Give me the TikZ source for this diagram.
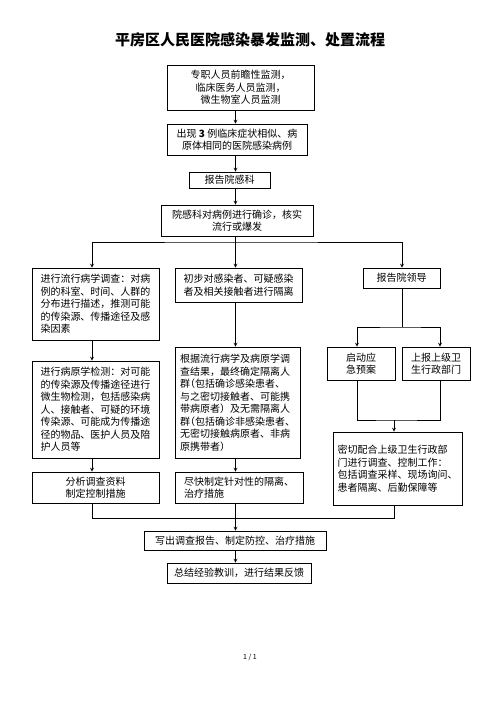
\documentclass[tikz,border=0pt]{standalone}
\usepackage{fontspec}
\setmainfont{Noto Sans CJK SC}
\newfontfamily\halffont[RawFeature=+halt]{Noto Sans CJK SC}
\newcommand\halfpar{{\halffont （}}
\begin{document}
\begin{tikzpicture}[x=1pt, y=-1pt, >=stealth, line width=0.75pt,
  every node/.style={font=\fontsize{10}{12.5}\selectfont, inner sep=2pt},
  box/.style={draw, align=left},
  cbox/.style={draw, align=center},
  sz/.style 2 args={minimum width=#1pt, minimum height=#2pt}]
  \useasboundingbox (0,0) rectangle (500,707);
  \node[font=\fontsize{15}{18}\selectfont\bfseries] (title) at (250,40) {平房区人民医院感染暴发监测、处置流程};
  \node[cbox, sz={147}{45}] (watch) at (240.5,87.5) {专职人员前瞻性监测，\\临床医务人员监测，\\微生物室人员监测};
  \node[cbox, sz={140}{31}] (cases) at (237,139.5) {出现 \textbf{3} 例临床症状相似、病\\原体相同的医院感染病例};
  \node[cbox, sz={81}{16}] (rptic) at (229.5,180) {报告院感科};
  \node[cbox, sz={152}{31}] (confirm) at (237,220.5) {院感科对病例进行确诊，核实\\流行或爆发};
  \node[box, sz={127}{72}] (epi) at (95.5,304) {进行流行病学调查：对病\\例的科室、时间、人群的\\分布进行描述，推测可能\\的传染源、传播途径及感\\染因素};
  \node[box, sz={127}{97}] (lab) at (95.5,409.5) {进行病原学检测：对可能\\的传染源及传播途径进行\\微生物检测，包括感染病\\人、接触者、可疑的环境\\传染源、可能成为传播途\\径的物品、医护人员及陪\\护人员等};
  \node[cbox, sz={127}{31}] (analy) at (95.5,487.5) {分析调查资料\\制定控制措施};
  \node[box, sz={127}{34}] (isol) at (238.5,285) {初步对感染者、可疑感染\\者及相关接触者进行隔离};
  \node[box, sz={125}{111}] (group) at (237.5,402.5) {根据流行病学及病原学调\\查结果，最终确定隔离人\\群\halfpar 包括确诊感染患者、\\与之密切接触者、可能携\\带病原者）及无需隔离人\\群\halfpar 包括确诊非感染患者、\\无密切接触病原者、非病\\原携带者）};
  \node[box, sz={128}{31}] (treat) at (239,487.5) {尽快制定针对性的隔离、\\治疗措施};
  \node[cbox, sz={77}{20}] (rptld) at (401.5,278) {报告院领导};
  \node[cbox, sz={68}{33}] (plan) at (361,363.5) {启动应\\急预案};
  \node[cbox, sz={68}{33}] (upper) at (436,363.5) {上报上级卫\\生行政部门};
  \node[box, sz={129}{73}] (coop) at (397.5,468.5) {密切配合上级卫生行政部\\门进行调查、控制工作：\\包括调查采样、现场询问、\\患者隔离、后勤保障等};
  \node[cbox, sz={182}{19}] (write) at (235,540.5) {写出调查报告、制定防控、治疗措施};
  \node[cbox, sz={144}{20}] (sum) at (239,573) {总结经验教训，进行结果反馈};
  \node[font=\fontsize{7}{8}\selectfont] (page) at (250,657) {1 / 1};
  \coordinate (spine) at (235.5,0); \coordinate (colL) at (92,0); \coordinate (colR) at (402,0);
  \coordinate (subA) at (357,0); \coordinate (subB) at (440,0); \coordinate (colC) at (394,0);
  \coordinate (br1) at (0,242); \coordinate (br2) at (0,327);
  \coordinate (br3) at (0,420); \coordinate (br4) at (0,518);
  \draw[->] (watch.south -| spine) -- (cases.north -| spine);
  \draw[->] (cases.south -| spine) -- (rptic.north -| spine);
  \draw[->] (rptic.south -| spine) -- (confirm.north -| spine);
  \draw[->] (confirm.south -| spine) -- (isol.north -| spine);
  \draw[<->] (epi.north -| colL) |- (br1 -| spine) -| (rptld.north -| colR);
  \draw[->] (epi.south -| colL) -- (lab.north -| colL);
  \draw[->] (lab.south -| colL) -- (analy.north -| colL);
  \draw[->] (isol.south -| spine) -- (group.north -| spine);
  \draw[->] (group.south -| spine) -- (treat.north -| spine);
  \draw (rptld.south -| colR) -- (br2 -| colR);
  \draw[<->] (plan.north -| subA) |- (br2 -| colR) -| (upper.north -| subB);
  \draw (plan.south -| subA) |- (br3 -| colC) -| (upper.south -| subB);
  \draw[->] (br3 -| colC) -- (coop.north -| colC);
  \draw (analy.south -| colL) |- (br4 -| colC) -- (coop.south -| colC);
  \draw[->] (treat.south -| spine) -- (write.north -| spine);
  \draw[->] (write.south -| spine) -- (sum.north -| spine);
\end{tikzpicture}
\end{document}
